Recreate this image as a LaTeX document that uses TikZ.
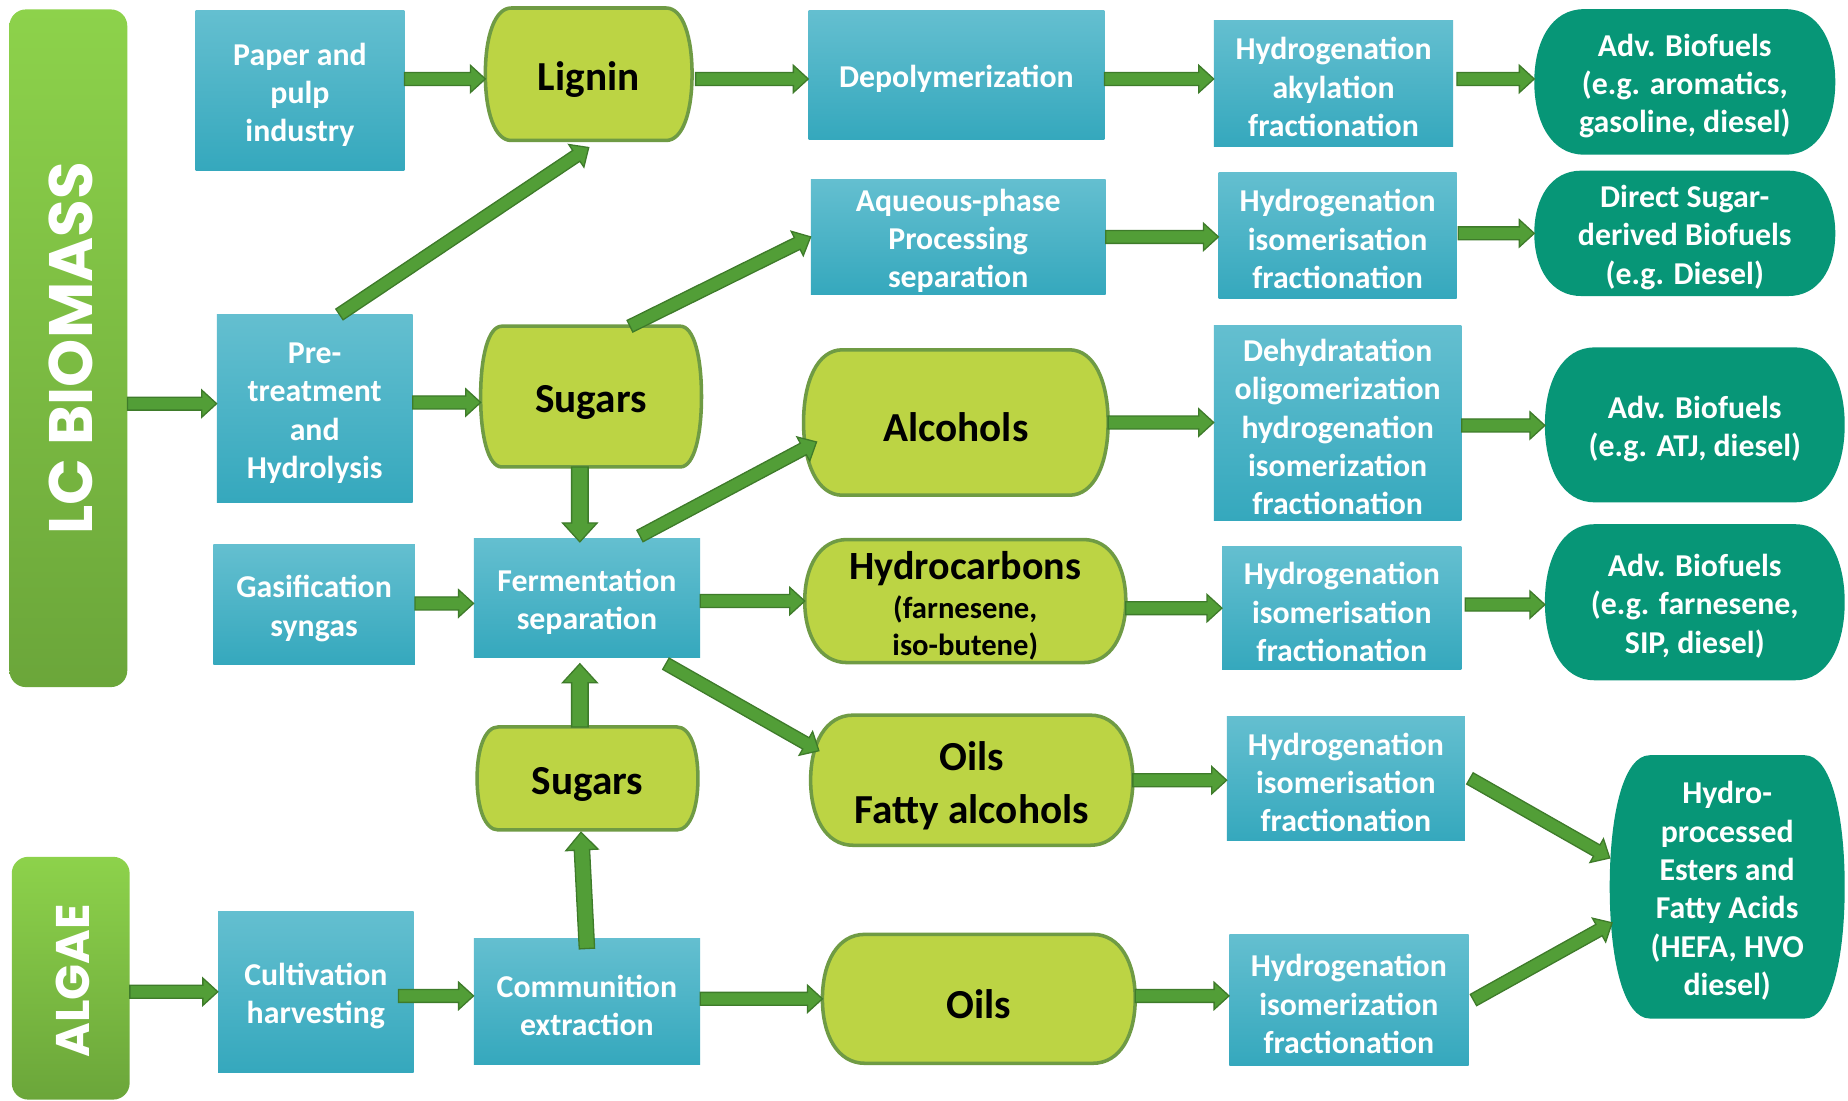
\documentclass[tikz,border=0pt]{standalone}
\usepackage{fontspec}
\setmainfont{Carlito}
\newfontfamily\barfont{Poppins}
\usetikzlibrary{calc}
\pgfdeclarelayer{bg}
\pgfsetlayers{bg,main}
\definecolor{boxtop}{HTML}{64BFD0}
\definecolor{boxbot}{HTML}{35A8BD}
\definecolor{gfill}{HTML}{BCD444}
\definecolor{gborder}{HTML}{6F9B44}
\definecolor{tealc}{HTML}{079677}
\definecolor{afill}{HTML}{529E37}
\definecolor{aborder}{HTML}{3E7B2A}
\definecolor{bartop}{HTML}{8DD24B}
\definecolor{barbot}{HTML}{6BA63A}
\newcommand{\fl}{\rule{0pt}{0.95em}}
\newcommand{\bulgeshape}[3]{%
 \path[#3] let \p1=(#1.north west), \p2=(#1.south east), \n1={0.5*(\y1+\y2)}, \n2={\y1-\y2} in
 (\x1+#2,\y1) -- (\x2-#2,\y1)
 .. controls (\x2-0.35*#2,\y1) and (\x2,\y1-0.22*\n2) .. (\x2,\n1)
 .. controls (\x2,\y2+0.22*\n2) and (\x2-0.35*#2,\y2) .. (\x2-#2,\y2)
 -- (\x1+#2,\y2)
 .. controls (\x1+0.35*#2,\y2) and (\x1,\y2+0.22*\n2) .. (\x1,\n1)
 .. controls (\x1,\y1-0.22*\n2) and (\x1+0.35*#2,\y1) .. (\x1+#2,\y1) -- cycle;}
\newcommand{\barrow}[3][5.5]{%
 \draw[blockarrow] let \p1=#2, \p2=#3, \n1={atan2(\y2-\y1,\x2-\x1)}, \n2={veclen(\x2-\x1,\y2-\y1)}, \n3={#1}, \n4={2.1*#1}, \n5={\n2-2.3*#1} in
 ($(\p1)+(\n1+90:\n3)$) -- ($(\p1)+(\n1:\n5)+(\n1+90:\n3)$) -- ($(\p1)+(\n1:\n5)+(\n1+90:\n4)$) -- (\p2)
 -- ($(\p1)+(\n1:\n5)+(\n1-90:\n4)$) -- ($(\p1)+(\n1:\n5)+(\n1-90:\n3)$) -- ($(\p1)+(\n1-90:\n3)$) -- cycle;}
\begin{document}
\begin{tikzpicture}[x=1pt,y=1pt,
  sz/.style 2 args={minimum width=#1, minimum height=#2},
  bluebox/.style={rectangle, inner sep=0, align=center, text=white, top color=boxtop, bottom color=boxbot, font=\bfseries\fontsize{27}{32.5}\selectfont},
  gnode/.style={rectangle, inner sep=0, align=center, text=black, font=\bfseries\fontsize{35}{42}\selectfont},
  tnode/.style={rectangle, inner sep=0, align=center, text=white, font=\bfseries\fontsize{27}{32.5}\selectfont},
  bar/.style={rectangle, rounded corners=14, top color=bartop, bottom color=barbot, inner sep=0},
  bartext/.style={text=white, inner sep=0},
  gshape/.style={fill=gfill, draw=gborder, line width=3},
  tshape/.style={fill=tealc},
  blockarrow/.style={fill=afill, draw=aborder, line width=1.1, line join=miter}]
\useasboundingbox (0,0) rectangle (1568,934);
% bars
\node[bar, sz={100}{575}] (lc) at (58,638.5) {};
\node[bartext, rotate=90, font=\barfont\bfseries\fontsize{52}{60}\selectfont] (lct) at ($(lc.center)+(2,0)$) {LC BIOMASS};
\node[bar, sz={100}{206}] (algae) at (60,104) {};
\node[bartext, rotate=90, font=\barfont\bfseries\fontsize{40}{48}\selectfont] (algaet) at ($(algae.center)+(2,-2)$) {ALGAE};
% blue boxes
\node[bluebox, sz={177}{136}] (paper) at (254.5,857) {\fl Paper and\\pulp\\industry};
\node[bluebox, sz={166}{159}] (pre) at (267,587.5) {\fl Pre-\\treatment\\and\\Hydrolysis};
\node[bluebox, sz={171}{102}] (gas) at (266.5,421) {\fl Gasification\\syngas};
\node[bluebox, sz={192}{101}] (ferm) at (498,426.5) {\fl Fermentation\\separation};
\node[bluebox, sz={166}{137}] (cult) at (268,92.5) {\fl Cultivation\\harvesting};
\node[bluebox, sz={192}{107}] (comm) at (498,84.5) {\fl Communition\\extraction};
\node[bluebox, sz={251}{109}] (depol) at (811.5,870.5) {\fl Depolymerization};
\node[bluebox, sz={250}{98}] (aque) at (813,733) {\fl Aqueous-phase\\Processing\\separation};
\node[bluebox, sz={203}{107}] (h1) at (1131.5,863.5) {\fl Hydrogenation\\akylation\\fractionation};
\node[bluebox, sz={202}{107}] (h2) at (1135,734.5) {\fl Hydrogenation\\isomerisation\\fractionation};
\node[bluebox, sz={210}{166}] (dehy) at (1135,575) {\fl Dehydratation\\oligomerization\\hydrogenation\\isomerization\\fractionation};
\node[bluebox, sz={203}{104}] (h4) at (1138.5,418) {\fl Hydrogenation\\isomerisation\\fractionation};
\node[bluebox, sz={202}{105}] (h5) at (1142,273.5) {\fl Hydrogenation\\isomerisation\\fractionation};
\node[bluebox, sz={203}{111}] (h6) at (1144.5,85.5) {\fl Hydrogenation\\isomerization\\fractionation};
% green nodes
\node[gnode, sz={175}{112}] (lignin) at (499.5,871) {\fl Lignin};
\node[gnode, sz={187}{119}] (sug1) at (501.5,597.5) {\fl Sugars};
\node[gnode, sz={258}{123}] (alc) at (811,575.5) {\fl Alcohols};
\node[gnode, sz={272}{104}, font=\bfseries\fontsize{26}{32}\selectfont] (hyd) at (819,424) {{\fontsize{34}{38}\selectfont\rule{0pt}{32pt}Hydrocarbons}\\[1pt](farnesene,\\iso-butene)};
\node[gnode, sz={273}{110}, font=\bfseries\fontsize{35}{45}\selectfont] (oilsfa) at (824.5,272) {\fl Oils\\Fatty alcohols};
\node[gnode, sz={187}{87}] (sug2) at (498.5,273.5) {\fl Sugars};
\node[gnode, sz={265}{109}] (oils) at (830.5,86.5) {\fl Oils};
% teal outputs
\node[tnode, sz={255}{123}] (out1) at (1429.5,864.5) {\fl Adv. Biofuels\\(e.g. aromatics,\\gasoline, diesel)};
\node[tnode, sz={255}{106}] (out2) at (1429.5,736) {\fl Direct Sugar-\\derived Biofuels\\(e.g. Diesel)};
\node[tnode, sz={254}{131}] (out3) at (1438,573.5) {\fl Adv. Biofuels\\(e.g. ATJ, diesel)};
\node[tnode, sz={254}{132}] (out4) at (1438,423) {\fl Adv. Biofuels\\(e.g. farnesene,\\SIP, diesel)};
\node[tnode, sz={199}{223}] (out5) at (1465.5,181.5) {\fl Hydro-\\processed\\Esters and\\Fatty Acids\\(HEFA, HVO\\diesel)};
% shapes behind the text
\begin{pgfonlayer}{bg}
\fill[white] (0,0) rectangle (1568,934);
\bulgeshape{lignin}{22}{gshape}
\bulgeshape{sug1}{18}{gshape}
\bulgeshape{alc}{33}{gshape}
\bulgeshape{hyd}{36}{gshape}
\bulgeshape{oilsfa}{36}{gshape}
\bulgeshape{sug2}{18}{gshape}
\bulgeshape{oils}{36}{gshape}
\bulgeshape{out1}{42}{tshape}
\bulgeshape{out2}{40}{tshape}
\bulgeshape{out3}{42}{tshape}
\bulgeshape{out4}{42}{tshape}
\bulgeshape{out5}{34}{tshape}
\end{pgfonlayer}
% arrows
\barrow{($(lc.east |- pre.west)+(0,4)$)}{($(pre.west)+(0,4)$)}
\barrow{($(paper.east)+(0,10)$)}{($(paper.east -| lignin.west)+(0,10)$)}
\barrow{($(pre.north)+(21,0)$)}{($(lignin.south)+(0,-6)$)}
\barrow{($(pre.east |- sug1.west)+(0,-5)$)}{($(sug1.west)+(0,-5)$)}
\barrow{($(lignin.east)+(3,-4)$)}{($(lignin.east -| depol.west)+(0,-4)$)}
\barrow{($(depol.east)+(0,-3.5)$)}{($(depol.east -| h1.west)+(0,-3.5)$)}
\barrow{($(h1.east)+(3,3.5)$)}{($(h1.east -| out1.west)+(0,3.5)$)}
\barrow{($(sug1.north)+(33,0)$)}{(aque.west)}
\barrow{(aque.east)}{(aque.east -| h2.west)}
\barrow{($(h2.east |- out2.west)+(1,0)$)}{(out2.west)}
\barrow[7]{($(sug1.south)+(-9.5,0)$)}{($(ferm.north)+(-6,-3)$)}
\barrow{($(ferm.north)+(45,2)$)}{($(alc.west)+(11,-16.5)$)}
\barrow{(alc.east)}{(alc.east -| dehy.west)}
\barrow{($(dehy.east)+(0,-2)$)}{($(dehy.east -| out3.west)+(0,-2)$)}
\barrow{($(gas.east)+(0,1)$)}{($(gas.east -| ferm.west)+(0,1)$)}
\barrow{(ferm.east |- hyd.west)}{(hyd.west)}
\barrow{(hyd.east |- h4.west)}{(h4.west)}
\barrow{($(h4.east)+(3,3)$)}{($(h4.east -| out4.west)+(0,3)$)}
\barrow{($(ferm.south)+(67,-5)$)}{($(oilsfa.west)+(7,25)$)}
\barrow[7]{($(sug2.north)+(-6.5,0)$)}{($(ferm.south)+(-6,-5)$)}
\barrow[6.5]{($(comm.north)+(0,-9)$)}{($(sug2.south)+(-5.5,-2)$)}
\barrow{(oilsfa.east)}{(oilsfa.east -| h5.west)}
\barrow{($(h5.east)+(4,0)$)}{($(out5.west)+(0,24.5)$)}
\barrow{(algae.east |- cult.west)}{(cult.west)}
\barrow{($(cult.east)+(-13,-3.5)$)}{($(cult.east -| comm.west)+(0,-3.5)$)}
\barrow{(comm.east |- oils.west)}{(oils.west)}
\barrow{($(oils.east)+(0,2.5)$)}{($(oils.east -| h6.west)+(0,2.5)$)}
\barrow{($(h6.east)+(4,0)$)}{($(out5.west)+(2,-30.5)$)}
\end{tikzpicture}
\end{document}
